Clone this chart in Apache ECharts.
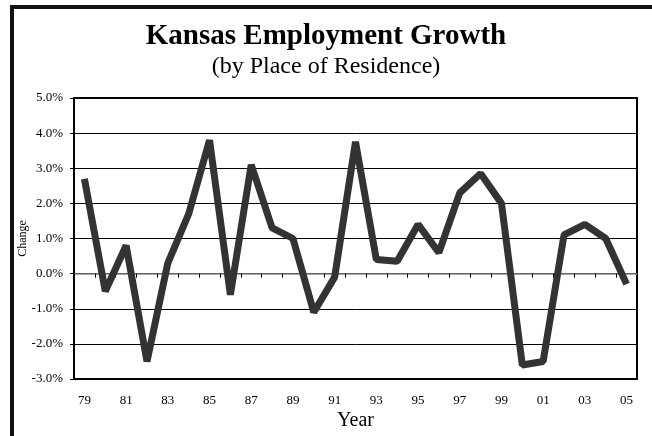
<!DOCTYPE html>
<html>
<head>
<meta charset="utf-8">
<script src="https://cdn.jsdelivr.net/npm/echarts@6/dist/echarts.min.js"></script>
<style>
  html, body { margin: 0; padding: 0; background: #fff; }
  #main { width: 652px; height: 436px; }
</style>
</head>
<body>
<div id="main"></div>
<script>
// years 1979 - 2005
var years = ['79','80','81','82','83','84','85','86','87','88','89','90','91','92',
             '93','94','95','96','97','98','99','00','01','02','03','04','05'];
// employment change, percent
var growth = [2.7, -0.5, 0.8, -2.5, 0.3, 1.7, 3.8, -0.6, 3.1, 1.3, 1.0, -1.1, -0.1, 3.75,
              0.4, 0.35, 1.4, 0.6, 2.3, 2.85, 2.0, -2.6, -2.5, 1.1, 1.4, 1.0, -0.3];

var serif = 'Liberation Serif';
var myChart = echarts.init(document.getElementById('main'));

var option = {
	backgroundColor: '#fff',
	animation: false,
	title: [{
		text: 'Kansas Employment Growth',
		left: 'center',
		top: 17,
		textStyle: { fontFamily: serif, fontSize: 29, fontWeight: 'bold', color: '#000' }
	}, {
		text: '(by Place of Residence)',
		left: 'center',
		top: 50,
		textStyle: { fontFamily: serif, fontSize: 24, fontWeight: 'normal', color: '#000' }
	}],
	graphic: [{
		type: 'rect',
		shape: { x: 12, y: 7, width: 650, height: 450 },
		style: { fill: 'none', stroke: '#111', lineWidth: 4 },
		silent: true
	}],
	grid: {
		left: 74,
		right: 15,
		top: 98,
		bottom: 57,
		show: true,
		borderColor: '#000',
		borderWidth: 2,
		backgroundColor: '#fff'
	},
	xAxis: [{
		type: 'category',
		data: years,
		boundaryGap: true,
		position: 'bottom',
		axisLine: { show: false, onZero: false },
		axisTick: { show: false },
		axisLabel: { interval: 1, fontFamily: serif, fontSize: 13, color: '#000', margin: 15 },
		name: 'Year',
		nameLocation: 'middle',
		nameGap: 32,
		nameMoveOverlap: false,
		nameTextStyle: { fontFamily: serif, fontSize: 20, color: '#000' }
	}, {
		type: 'category',
		data: years,
		boundaryGap: true,
		position: 'bottom',
		axisLine: { show: true, onZero: true, lineStyle: { color: '#888', width: 1.5 } },
		axisTick: { show: true, inside: false, length: 4, interval: 0, lineStyle: { color: '#000' } },
		axisLabel: { show: false }
	}],
	yAxis: {
		type: 'value',
		min: -3,
		max: 5,
		interval: 1,
		axisLine: { show: false },
		axisTick: { show: true, length: 4, lineStyle: { color: '#000' } },
		axisLabel: {
			fontFamily: serif, fontSize: 13, color: '#000', margin: 11,
			formatter: function(v) { return v.toFixed(1) + '%'; }
		},
		splitLine: { show: true, lineStyle: { color: '#000', width: 1 } },
		name: 'Change',
		nameLocation: 'middle',
		nameGap: 45,
		nameMoveOverlap: false,
		nameTextStyle: { fontFamily: serif, fontSize: 12, color: '#000' }
	},
	series: [{
		type: 'line',
		xAxisIndex: 0,
		data: growth,
		symbol: 'none',
		lineStyle: { color: '#333', width: 7 },
		z: 5
	}]
};
myChart.setOption(option);
</script>
</body>
</html>
